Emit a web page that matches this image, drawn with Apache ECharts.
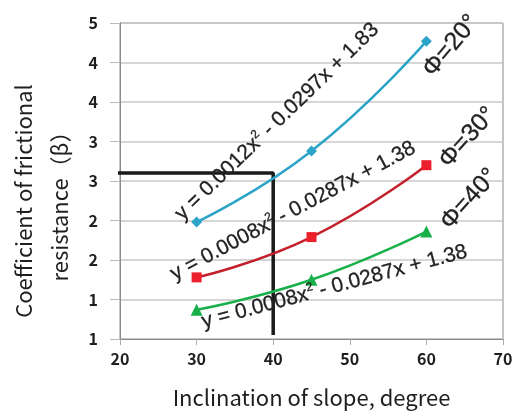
<!DOCTYPE html>
<html><head><meta charset="utf-8">
<script src="https://cdn.jsdelivr.net/npm/echarts@6/dist/echarts.min.js"></script>
<style>html,body{margin:0;padding:0;background:#fff}#c{width:517px;height:414px}</style>
</head><body><div id="c"></div>
<script>
const inclination = [30, 45, 60];
const phi20 = [1.98, 2.88, 4.27];
const phi30 = [1.28, 1.79, 2.70];
const phi40 = [0.87, 1.25, 1.86];
const guideLine = [[40, 0.55], [40, 2.6], [18.47, 2.6]];
const eqLabels = [
  {text: 'y = 0.0012x{s|2} - 0.0297x + 1.83', coord: [40.5, 3.25], rotate: 44},
  {text: 'y = 0.0008x{s|2} - 0.0287x + 1.38', coord: [42.6, 2.12], rotate: 28},
  {text: 'y = 0.0008x{s|2} - 0.0287x + 1.38', coord: [48.0, 1.16], rotate: 15}
];
const phiLabels = [
  {text: 'Φ=20°', coord: [63.2, 4.21], rotate: 50},
  {text: 'Φ=30°', coord: [65.4, 3.05], rotate: 48},
  {text: 'Φ=40°', coord: [65.6, 2.27], rotate: 48}
];
const colors = {blue: '#2ba4c7', red: '#c4202b', redMark: '#ec1f2c', green: '#18b04a'};

function pairs(ys) { return inclination.map((x, i) => [x, ys[i]]); }
const noteData = [];
eqLabels.forEach(e => noteData.push({value: e.coord, label: {formatter: e.text, rotate: e.rotate, fontSize: 21,
  rich: {s: {fontSize: 12, fontFamily: 'Liberation Sans', color: '#222', textBorderColor: '#222', textBorderWidth: 0.3, padding: [0, 0, 12, 0]}}}}));
phiLabels.forEach(p => noteData.push({value: p.coord, label: {formatter: p.text, rotate: p.rotate, fontSize: 25}}));

const chart = echarts.init(document.getElementById('c'));
chart.setOption({
  animation: false,
  grid: {left: 120, right: 14, top: 23, bottom: 72, show: true, borderColor: '#8a8a8a', borderWidth: 1},
  xAxis: {
    type: 'value', min: 20, max: 70, interval: 10,
    name: 'Inclination of slope, degree', nameLocation: 'middle', nameGap: 48,
    nameTextStyle: {fontFamily: 'Noto Sans CJK JP', fontSize: 22, color: '#1e1e1e'},
    axisLine: {lineStyle: {color: '#8a8a8a'}},
    axisTick: {show: true, length: 6, lineStyle: {color: '#aaa'}},
    axisLabel: {fontFamily: 'Noto Sans CJK JP', fontWeight: 'bold', fontSize: 16, color: '#1e1e1e', margin: 12},
    splitLine: {show: false}
  },
  yAxis: {
    type: 'value', min: 0.5, max: 4.5, interval: 0.5,
    axisLine: {show: true, lineStyle: {color: '#8a8a8a'}},
    axisTick: {show: true, length: 10, lineStyle: {color: '#bbb'}},
    axisLabel: {fontFamily: 'Noto Sans CJK JP', fontWeight: 'bold', fontSize: 16, color: '#1e1e1e', margin: 22,
      formatter: v => String(Math.round(v))},
    splitLine: {lineStyle: {color: '#c8c8c8', width: 1.5}}
  },
  graphic: [{
    type: 'text', x: 42, y: 201, rotation: Math.PI / 2,
    style: {text: 'Coefficient of frictional\nresistance（β）', fontFamily: 'Noto Sans CJK JP', fontSize: 22,
      fill: '#1e1e1e', align: 'center', verticalAlign: 'middle', lineHeight: 36}
  }],
  series: [
    {type: 'line', data: guideLine, symbol: 'none', clip: false, z: 1,
      lineStyle: {color: '#1a1a1a', width: 3.5}},
    {type: 'line', data: pairs(phi20), smooth: true, symbol: 'diamond', symbolSize: 11, z: 3,
      lineStyle: {color: colors.blue, width: 2.5}, itemStyle: {color: colors.blue}},
    {type: 'line', data: pairs(phi30), smooth: true, symbol: 'rect', symbolSize: 10, z: 3,
      lineStyle: {color: colors.red, width: 2.5}, itemStyle: {color: colors.redMark}},
    {type: 'line', data: pairs(phi40), smooth: true, symbol: 'triangle', symbolSize: 12, z: 3,
      lineStyle: {color: colors.green, width: 2.5}, itemStyle: {color: colors.green}},
    {type: 'scatter', data: noteData, symbolSize: 1, z: 5, silent: true,
      itemStyle: {color: '#fff', opacity: 0},
      label: {show: true, opacity: 1, position: 'inside', color: '#222', textBorderColor: '#222', textBorderWidth: 0.3,
        fontFamily: 'Liberation Sans'}}
  ]
});
</script></body></html>
